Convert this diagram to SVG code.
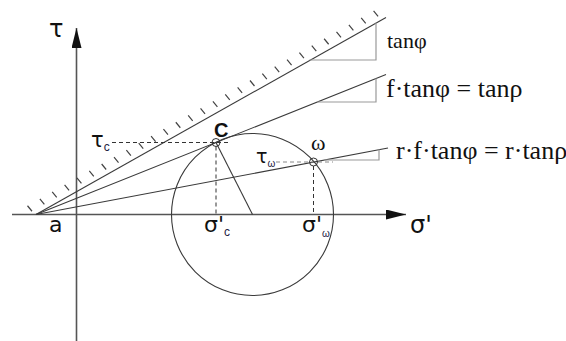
<svg xmlns="http://www.w3.org/2000/svg" width="566" height="341" viewBox="0 0 566 341">
<defs>
<style>
.ax{stroke:#555;stroke-width:1.6;fill:none}
.ln{stroke:#3a3a3a;stroke-width:1.1;fill:none}
.tri{stroke:#999;stroke-width:1.2;fill:none}
.dash{stroke:#333;stroke-width:1;stroke-dasharray:4 3;fill:none}
.dashl{stroke:#888;stroke-width:1;stroke-dasharray:4 3;fill:none}
.hatch{stroke:#444;stroke-width:1.2;fill:none}
.pt{stroke:#333;stroke-width:1;fill:none}
.sans{font-family:"DejaVu Sans","Liberation Sans",sans-serif;fill:#111}
.lsans{font-family:"Liberation Sans",Arial,sans-serif;fill:#111}
.serif{font-family:"Liberation Serif","Times New Roman",serif;fill:#111}
.sub{font-family:"Liberation Sans",sans-serif;fill:#224}
</style>
<marker id="arr" viewBox="0 0 20 10" refX="20" refY="5" markerWidth="20" markerHeight="10" markerUnits="userSpaceOnUse" orient="auto">
<path d="M0,0 L20,5 L0,10 Z" fill="#111"/>
</marker>
</defs>
<rect width="566" height="341" fill="#fff"/>

<g id="axes">
<line class="ax" x1="12" y1="214.5" x2="406" y2="214.5" marker-end="url(#arr)"/>
<line class="ax" x1="76.5" y1="341" x2="76.5" y2="28" marker-end="url(#arr)"/>
</g>

<g id="connectors">
<line class="ln" x1="36" y1="214.5" x2="386" y2="17.5"/>
<line class="ln" x1="36" y1="214.5" x2="386" y2="74.5"/>
<line class="ln" x1="36" y1="214.5" x2="388" y2="148"/>
<polyline class="tri" points="376,22.8 376,60 309.5,60"/>
<polyline class="tri" points="376,78.5 376,102 317,102"/>
<polyline class="tri" points="379,149.6 379,160 324,160"/>
<path class="hatch" d="M32,211.25l-4.5,-5.5 M44.36,204.3l-4.5,-5.5 M56.72,197.34l-4.5,-5.5 M69.08,190.38l-4.5,-5.5 M81.44,183.42l-4.5,-5.5 M93.8,176.46l-4.5,-5.5 M106.16,169.5l-4.5,-5.5 M118.52,162.54l-4.5,-5.5 M130.88,155.58l-4.5,-5.5 M143.24,148.63l-4.5,-5.5 M155.6,141.67l-4.5,-5.5 M167.96,134.71l-4.5,-5.5 M180.32,127.75l-4.5,-5.5 M192.68,120.79l-4.5,-5.5 M205.04,113.83l-4.5,-5.5 M217.4,106.87l-4.5,-5.5 M229.76,99.92l-4.5,-5.5 M242.12,92.96l-4.5,-5.5 M254.48,86l-4.5,-5.5 M266.84,79.04l-4.5,-5.5 M279.2,72.08l-4.5,-5.5 M291.56,65.12l-4.5,-5.5 M303.92,58.16l-4.5,-5.5 M316.28,51.2l-4.5,-5.5 M328.64,44.25l-4.5,-5.5 M341,37.29l-4.5,-5.5 M353.36,30.33l-4.5,-5.5 M365.72,23.37l-4.5,-5.5 M378.08,16.41l-4.5,-5.5"/>
<line class="dash" x1="112" y1="142.5" x2="229" y2="142.5"/>
<line class="dash" x1="216" y1="146.5" x2="216" y2="214"/>
<line class="dashl" x1="276" y1="162" x2="333" y2="162"/>
<line class="dash" x1="313.5" y1="166" x2="313.5" y2="214"/>
<line class="ln" x1="216" y1="142.5" x2="252.5" y2="214.5"/>
</g>

<g id="mohr-circle">
<circle class="ln" cx="252.5" cy="214.5" r="81"/>
</g>

<g id="point-C">
<circle class="pt" cx="216" cy="142.5" r="4"/>
<text class="lsans" x="214" y="137" font-size="20" font-weight="bold">C</text>
</g>

<g id="point-omega">
<circle class="pt" cx="313.5" cy="162" r="4"/>
<text class="serif" x="311" y="150" font-size="22">ω</text>
</g>

<g id="labels">
<text class="sans" x="49" y="37" font-size="24">τ</text>
<text class="sans" x="410" y="233" font-size="24">σ'</text>
<text class="sans" x="49" y="232" font-size="22">a</text>
<text class="sans" x="91" y="147" font-size="21">τ<tspan class="sub" font-size="12" dy="4">c</tspan></text>
<text class="sans" x="256" y="163" font-size="19">τ<tspan class="sub" font-size="10" dy="4">ω</tspan></text>
<text class="sans" x="204" y="232" font-size="22">σ'<tspan class="sub" font-size="12" dy="4">c</tspan></text>
<text class="sans" x="302" y="232" font-size="22">σ'<tspan class="sub" font-size="10" dy="5">ω</tspan></text>
</g>

<g id="slope-labels">
<text class="serif" x="387" y="48" font-size="22">tanφ</text>
<text class="serif" x="386" y="97" font-size="26">f·tanφ = tanρ</text>
<text class="serif" x="396" y="159" font-size="26">r·f·tanφ = r·tanρ</text>
</g>
</svg>
